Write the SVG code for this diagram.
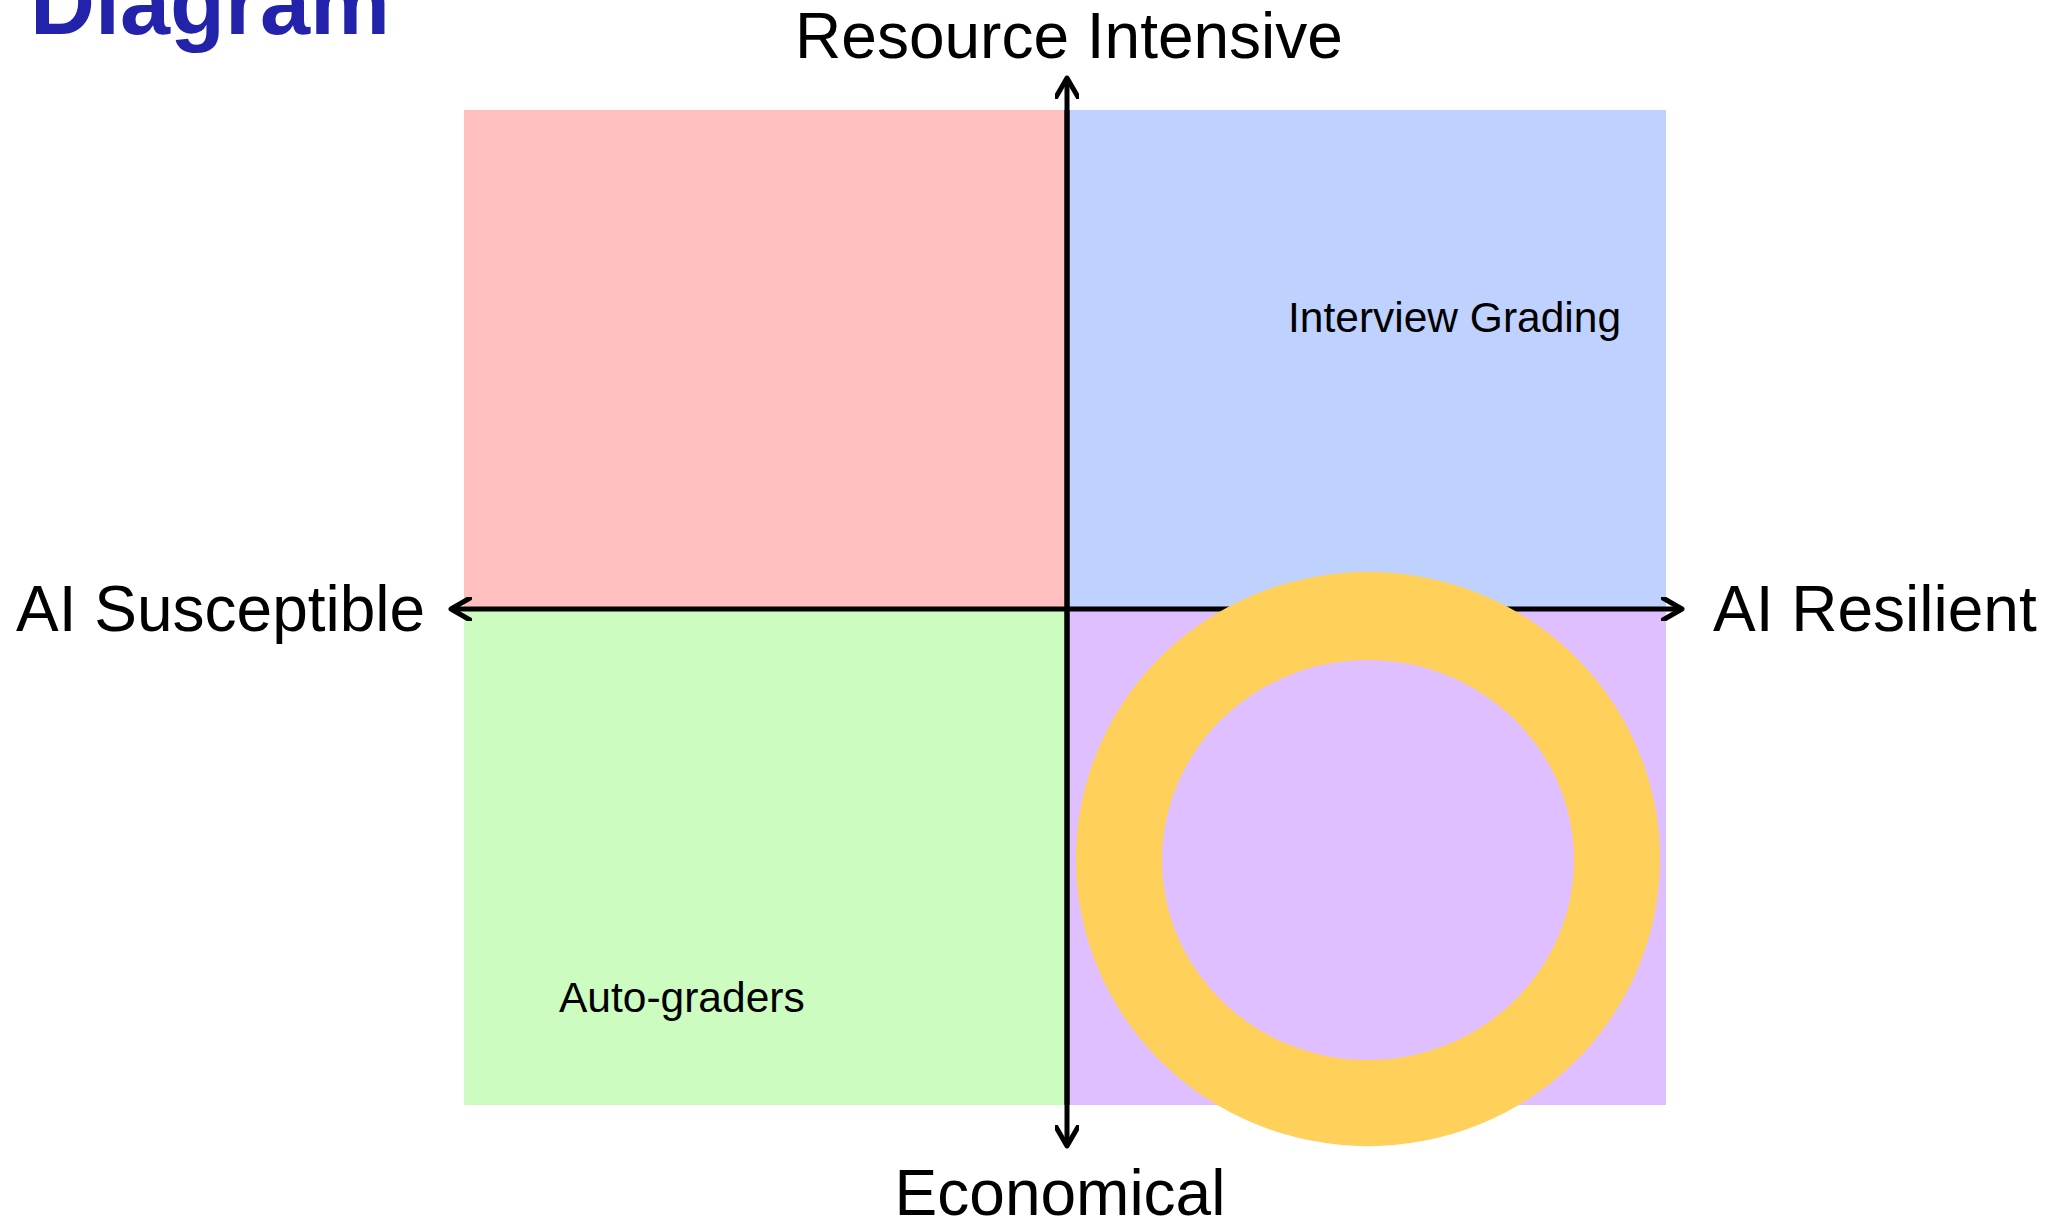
<svg xmlns="http://www.w3.org/2000/svg" width="2046" height="1225" viewBox="0 0 2046 1225">
  <style>
    .axis-label { font-family: "Liberation Sans", Arial, sans-serif; font-size: 64px; fill: #000; }
    .item-label { font-family: "Liberation Sans", Arial, sans-serif; font-size: 42.5px; fill: #000; }
    .title { font-family: "Liberation Sans", Arial, sans-serif; font-size: 90px; font-weight: bold; fill: #2222aa; }
    .axis { stroke: #000; stroke-width: 5; fill: none; }
  </style>
  <defs>
    <marker id="chevron" viewBox="0 0 24 24" refX="21" refY="12" markerWidth="24" markerHeight="24" markerUnits="userSpaceOnUse" orient="auto">
      <path d="M2 1 L21 12 L2 23" fill="none" stroke="#000" stroke-width="5" stroke-linecap="round" stroke-linejoin="round"/>
    </marker>
  </defs>
  <rect width="2046" height="1225" fill="#ffffff"/>

  <text class="title" x="30" y="34">Diagram</text>

  <g id="quadrant-top-left"><rect x="464" y="110" width="603" height="499" fill="#ffbfbf"/></g>
  <g id="quadrant-top-right"><rect x="1067" y="110" width="599" height="499" fill="#bfd1ff"/></g>
  <g id="quadrant-bottom-left"><rect x="464" y="609" width="603" height="496" fill="#ccfcbf"/></g>
  <g id="quadrant-bottom-right"><rect x="1067" y="609" width="599" height="496" fill="#dfbfff"/></g>

  <g id="connectors">
    <line class="axis" x1="1067" y1="1105" x2="1067" y2="78" marker-end="url(#chevron)"/>
    <line class="axis" x1="1067" y1="110" x2="1067" y2="1146" marker-end="url(#chevron)"/>
    <line class="axis" x1="1067" y1="609" x2="451" y2="609" marker-end="url(#chevron)"/>
    <line class="axis" x1="1067" y1="609" x2="1682" y2="609" marker-end="url(#chevron)"/>
  </g>

  <!-- ring drawn as outer ellipse minus inner ellipse -->
  <g id="highlight-ring">
    <path fill="#ffd05a" fill-rule="evenodd"
          d="M1076 859 A292 287 0 1 0 1660 859 A292 287 0 1 0 1076 859 Z
             M1162 860 A206 200 0 1 0 1574 860 A206 200 0 1 0 1162 860 Z"/>
  </g>

  <g id="label-resource-intensive"><text class="axis-label" x="1069" y="58" text-anchor="middle">Resource Intensive</text></g>
  <g id="label-economical"><text class="axis-label" x="1060" y="1215" text-anchor="middle">Economical</text></g>
  <g id="label-ai-susceptible"><text class="axis-label" x="16" y="631">AI Susceptible</text></g>
  <g id="label-ai-resilient"><text class="axis-label" x="1713" y="631">AI Resilient</text></g>

  <g id="item-interview-grading"><text class="item-label" x="1288" y="332">Interview Grading</text></g>
  <g id="item-auto-graders"><text class="item-label" x="559" y="1012">Auto-graders</text></g>
</svg>
